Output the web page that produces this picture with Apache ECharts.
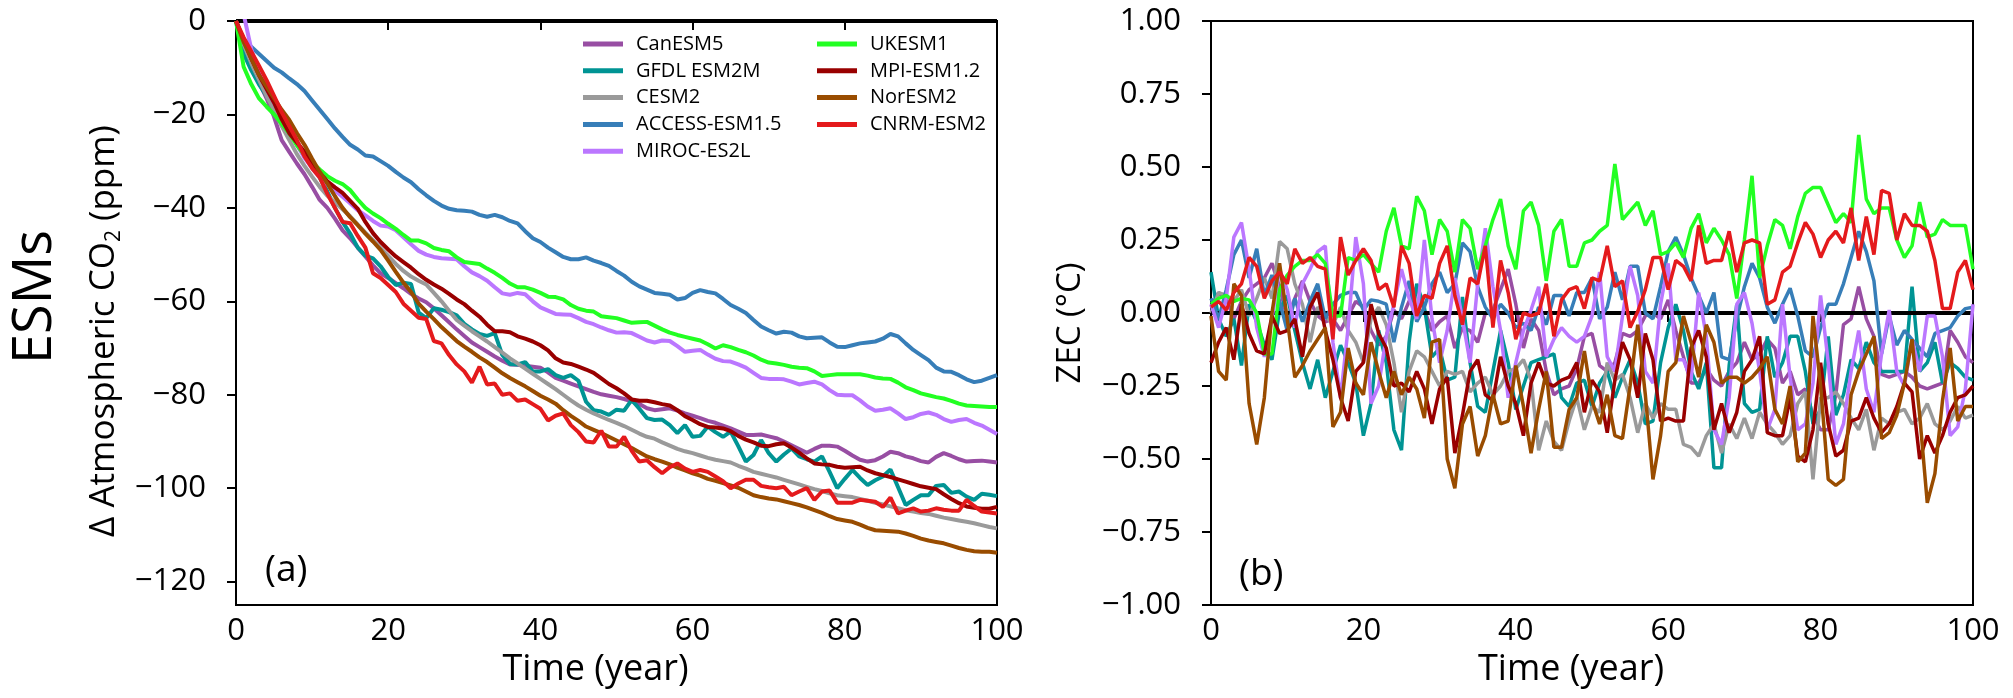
<!DOCTYPE html>
<html>
<head>
<meta charset="utf-8">
<script src="https://cdn.jsdelivr.net/npm/echarts@6/dist/echarts.min.js"></script>
<style>
  html, body { margin: 0; padding: 0; background: #fff; }
  #chart { width: 2013px; height: 698px; }
</style>
</head>
<body>
<div id="chart"></div>
<script>
var models = ['CanESM5', 'GFDL ESM2M', 'CESM2', 'ACCESS-ESM1.5', 'MIROC-ES2L',
              'UKESM1', 'MPI-ESM1.2', 'NorESM2', 'CNRM-ESM2'];
var colors = ['#984ea3', '#009494', '#9a9a9a', '#377eb8', '#bb77ff',
              '#22ff22', '#990000', '#994c00', '#e41a1c'];

var xTicks = [0, 20, 40, 60, 80, 100];
var co2Ticks = [0, -20, -40, -60, -80, -100, -120];

// (a) change in atmospheric CO2 (ppm), one value per year 0..100
var co2CanESM5 = [0,-5,-9,-13,-16.5,-20.5,-25.5,-28,-30.5,-32.8,
  -35.5,-38.3,-40,-42.3,-44.8,-46.5,-48.5,-50.4,-52.3,-54,
  -55,-56.1,-57.2,-58.4,-59.4,-60.2,-61.5,-63,-64.5,-66,
  -67.4,-68.8,-69.8,-70.8,-71.8,-72.7,-73.5,-73.6,-73.8,-74,
  -74.2,-75.2,-76.4,-77,-77.6,-78.2,-78.8,-79.4,-79.9,-80.2,
  -80.5,-80.9,-81.4,-82,-82.9,-83.3,-83.1,-82.9,-83.4,-84,
  -84.5,-85,-85.6,-86,-86.6,-87.2,-87.9,-88.6,-88.6,-88.5,
  -88.9,-89.3,-90,-90.8,-91.6,-92.4,-91.6,-90.9,-90.9,-91.1,
  -92,-93,-93.9,-94.3,-94,-93.2,-92.2,-92.5,-93.2,-93.6,
  -94.2,-94.5,-93.3,-92.5,-93.1,-93.8,-94.3,-94.2,-94.1,-94.3,
  -94.5];
var co2GFDL = [0,-7,-10.5,-13.5,-16,-18.3,-20.5,-23.5,-26.2,-28.5,
  -30.5,-33.5,-36.5,-40,-43,-45.5,-48.5,-50.2,-50.8,-52.5,
  -54.8,-56.5,-56,-56.3,-62.4,-63.6,-61.5,-61.8,-62.3,-63,
  -64.8,-66,-67,-67.4,-66.8,-71.5,-73.4,-73.5,-73,-75,
  -75,-74.5,-75.8,-76.4,-75.8,-77,-81.5,-83.3,-83.6,-84.3,
  -83.2,-83.4,-81.1,-83,-85,-85.4,-85.3,-86.5,-88.2,-86.5,
  -89,-88.8,-86.8,-88,-89,-87.9,-91,-94.3,-92.9,-89.7,
  -92.5,-94.3,-92.8,-91.5,-93.2,-93.8,-94.3,-93.2,-96.5,-100,
  -98,-96.1,-97.8,-99.3,-98.3,-97.5,-96,-99.8,-103.6,-102.5,
  -101.5,-101.5,-99.5,-99.3,-101,-100.7,-101.8,-102.5,-101.2,-101.4,
  -101.7];
var co2CESM2 = [0,-5,-9,-12.5,-16,-19,-22.5,-25.5,-28.5,-31,
  -33.3,-35.5,-37.4,-38.8,-40.3,-41.8,-43.6,-45.3,-46.9,-48.6,
  -50.3,-52,-53.5,-54.7,-55.6,-56.4,-58.2,-60,-62,-64,
  -65.2,-66.4,-67.5,-68.6,-69.8,-71,-72.2,-73.3,-74.4,-75.5,
  -76.6,-77.7,-78.8,-80,-81.2,-82.3,-83.2,-84,-84.7,-85.4,
  -86,-86.7,-87.5,-88.3,-89,-89.4,-90.2,-90.9,-91.6,-92.1,
  -92.5,-93,-93.5,-93.9,-94.2,-94.5,-95.2,-95.8,-96.5,-96.9,
  -97.3,-97.7,-98.2,-98.7,-99.2,-99.7,-100.2,-100.6,-101.1,-101.5,
  -101.7,-101.9,-102.3,-102.7,-103.1,-103.5,-103.9,-104.3,-104.7,-105,
  -105.3,-105.5,-105.9,-106.3,-106.6,-106.9,-107.2,-107.5,-107.9,-108.3,
  -108.6];
var co2ACCESS = [0,-4,-5.5,-7,-8.5,-10,-11,-12.3,-13.5,-15,
  -17,-19,-21,-23,-24.8,-26.5,-27.5,-28.8,-29,-30,
  -31,-32.3,-33.5,-34.5,-36,-37.3,-38.5,-39.5,-40.2,-40.5,
  -40.6,-40.8,-41.5,-41.9,-41.5,-42,-42.8,-43.3,-45,-46.5,
  -47.3,-48.5,-49.5,-50.5,-51,-51,-50.6,-51.3,-51.8,-52.4,
  -53.5,-54.5,-55.8,-56.8,-57.5,-58.2,-58.4,-58.6,-59.6,-59.3,
  -58.2,-57.6,-58,-58.3,-59.5,-60.8,-61.6,-62.5,-64,-65.4,
  -66.2,-66.9,-66.5,-66.7,-67.5,-67.9,-67.8,-67.7,-68.8,-69.7,
  -69.8,-69.4,-69,-68.8,-68.6,-68,-67,-67.5,-69,-70.4,
  -71.5,-72.6,-74.2,-75,-75.1,-75.8,-76.7,-77.3,-77,-76.4,
  -75.8];
var co2MIROC = [6,1.5,-6,-11,-14.5,-17.5,-20.5,-23.5,-26.5,-29.3,
  -31.5,-33.5,-35,-36.3,-37.6,-39,-40.5,-41.6,-42.8,-43.8,
  -44,-44.8,-46.3,-47.8,-49.2,-50,-50.5,-50.8,-50.9,-51,
  -52.5,-53.8,-54.6,-55.6,-57,-58.3,-58.6,-58.2,-58.5,-60,
  -61.3,-62,-62.7,-62.8,-62.9,-63.6,-64.4,-64.9,-65.6,-66.2,
  -66.7,-66.6,-66.8,-67.6,-68.4,-68.8,-68.4,-68.5,-69.6,-70.8,
  -70.6,-70.4,-71.4,-72.3,-72.8,-72.9,-73.5,-74.2,-75.3,-76.4,
  -76.6,-76.6,-76.7,-77.2,-77.8,-77.5,-77.2,-77.8,-79,-80,
  -80.1,-80.1,-81.2,-82.5,-83.4,-83.2,-82.9,-84,-85.2,-84.8,
  -84.1,-83.8,-84.3,-85.2,-85.8,-85.4,-85.2,-86,-86.6,-87.5,
  -88.4];
var co2UKESM1 = [0,-9.8,-13.5,-16.5,-18.3,-20,-22,-24,-26.6,-28.7,
  -30.3,-31.8,-33.2,-34.2,-34.9,-36.2,-38.2,-40,-41.2,-42.2,
  -43.4,-44.5,-45.8,-47,-47,-47.6,-48.6,-49,-49.3,-50.6,
  -51.6,-51.8,-52,-53,-53.9,-55,-56.2,-57,-57,-57.5,
  -58.2,-59,-59.1,-59.6,-60.8,-61.6,-62,-62.2,-63.2,-63.4,
  -63.6,-64.1,-64.6,-64.5,-64.4,-65.2,-66,-66.7,-67.2,-67.6,
  -68,-68.4,-69.2,-70.1,-69.4,-69.8,-70.4,-70.9,-71.6,-72.5,
  -73.1,-73.3,-73.6,-74,-74.2,-74.3,-75,-76,-75.8,-75.6,
  -75.6,-75.6,-75.6,-75.9,-76.3,-76.5,-76.6,-77.4,-78.4,-79,
  -79.7,-80.1,-80.5,-80.8,-81.3,-81.9,-82.3,-82.4,-82.5,-82.6,
  -82.6];
var co2MPI = [0,-4,-8,-11.5,-14.5,-17.5,-21,-24,-26,-28,
  -30.5,-32.5,-34.3,-35.6,-36.8,-38.5,-40.2,-43,-45.4,-47.3,
  -48.9,-50.4,-51.6,-52.8,-54.2,-55.4,-56.4,-57.3,-58.4,-59.6,
  -60.6,-62,-63.3,-65,-66.4,-66.4,-66.6,-67.5,-68,-68.6,
  -69.4,-70.5,-72.2,-73.1,-73.4,-74,-74.6,-75.3,-76.5,-77.7,
  -78.6,-79.7,-81,-81.3,-81.3,-81.6,-82,-82.3,-83.3,-84.6,
  -85.4,-86.3,-86.9,-87,-87.2,-87.8,-88.8,-89.6,-90.2,-90.9,
  -91,-90.6,-90.4,-91.3,-92.4,-93.6,-94.7,-94.9,-95,-95.4,
  -95.6,-95.5,-95.4,-96.2,-96.8,-97.2,-97.6,-98.1,-98.6,-99.1,
  -99.6,-99.9,-100.2,-101.3,-102.3,-103.2,-103.9,-104.2,-104.4,-104.4,
  -104];
var co2NorESM2 = [0,-4.5,-8,-11.5,-14,-16.5,-19,-21.2,-24,-26.5,
  -29.5,-32.3,-34.8,-37.5,-40,-42,-43.7,-45.5,-47.2,-49,
  -51.3,-53.7,-56,-58,-60.5,-62.2,-63.8,-65.5,-67,-68.5,
  -69.7,-70.8,-72,-73,-74.2,-75.4,-76.4,-77.3,-78.2,-79.2,
  -80.2,-81,-81.9,-83.3,-84.5,-85.6,-86.8,-87.5,-88.2,-89,
  -89.8,-90.6,-91.4,-92.3,-93.2,-93.8,-94.3,-94.9,-95.6,-96.2,
  -96.8,-97.3,-98,-98.4,-98.9,-99.4,-99.9,-100.7,-101.5,-101.9,
  -102.2,-102.4,-102.8,-103.2,-103.6,-104.1,-104.7,-105.3,-106,-106.6,
  -106.9,-107.2,-107.8,-108.5,-109,-109.1,-109.2,-109.3,-109.7,-110.2,
  -110.8,-111.2,-111.5,-111.8,-112.3,-112.8,-113.2,-113.5,-113.6,-113.6,
  -113.8];
var co2CNRM = [0,-3.5,-6.5,-9.5,-12.6,-16,-19.5,-22.5,-25.5,-29,
  -31.5,-33.5,-37,-40,-43,-43.3,-46,-48.5,-54,-55,
  -56.5,-58,-60.5,-62,-63.5,-63.8,-68.5,-69,-71.5,-73.5,
  -75,-77.4,-74,-77.8,-77.6,-80,-79.7,-81.3,-81,-82,
  -83,-85.5,-84.5,-84,-86.5,-88,-90,-90.2,-87.7,-91.1,
  -91.1,-89,-92,-94.3,-94,-95.5,-96.8,-95.5,-94.7,-95.8,
  -96.5,-96.1,-96.5,-97.5,-98.5,-100,-99,-98.2,-98.2,-99.5,
  -99.8,-100,-99.7,-101.5,-100.7,-100,-102.5,-100.7,-100.5,-103.1,
  -103.1,-103.1,-102.5,-102.7,-102.9,-104,-102,-105.4,-104.8,-104.3,
  -105,-104.8,-104.3,-104.6,-104.8,-104.8,-102.5,-103.8,-105,-105.2,
  -105.4];

// (b) zero emissions commitment (degC), one value per year 0..100
var zecCanESM5 = [0.02,0.07,0.05,-0.02,0.04,0.08,0.1,0.12,0.17,0.09,
  -0.02,0.05,0.11,0.04,-0.01,-0.03,-0.02,-0.06,-0.01,0.04,
  0.02,-0.06,-0.11,-0.08,0.01,-0.02,0.04,0.09,0.01,-0.06,
  -0.03,-0.01,-0.12,-0.05,-0.06,-0.1,0,0.01,0.08,0.15,
  0.03,-0.12,-0.02,-0.06,-0.2,-0.28,-0.26,-0.25,-0.19,-0.08,
  -0.07,-0.18,-0.2,-0.17,-0.07,-0.08,-0.06,-0.01,0,-0.02,
  0.045,-0.06,-0.15,-0.24,-0.24,-0.19,-0.23,-0.25,-0.2,-0.17,
  -0.1,-0.16,-0.14,-0.09,-0.12,-0.24,-0.2,-0.28,-0.26,-0.35,
  -0.4,-0.4,-0.28,-0.04,-0.02,0.09,-0.02,-0.08,-0.21,-0.22,
  -0.21,-0.2,-0.22,-0.25,-0.26,-0.25,-0.24,-0.06,-0.1,-0.15,
  -0.17];
var zecGFDL = [0.14,-0.02,-0.08,-0.02,-0.18,0.03,-0.03,-0.11,-0.16,0.01,
  0.06,-0.06,-0.17,-0.26,-0.16,-0.29,-0.2,-0.11,-0.17,-0.24,
  -0.42,-0.31,-0.06,-0.17,-0.4,-0.47,-0.1,0.1,0.02,-0.15,
  -0.12,-0.23,-0.22,0.055,-0.17,-0.32,-0.34,-0.2,-0.06,-0.17,
  -0.33,-0.25,-0.17,-0.16,-0.15,-0.14,-0.29,-0.32,-0.24,-0.23,
  -0.32,-0.24,-0.2,-0.29,-0.22,-0.16,-0.24,-0.38,-0.37,-0.17,
  -0.05,0.03,-0.06,-0.2,-0.26,-0.17,-0.53,-0.53,-0.18,0.03,
  -0.31,-0.34,-0.33,-0.08,-0.22,-0.17,-0.08,-0.08,-0.2,-0.38,
  -0.33,-0.08,-0.35,-0.28,-0.16,-0.19,-0.1,-0.17,-0.2,-0.2,
  -0.2,-0.2,0.09,-0.2,-0.17,-0.1,-0.24,-0.17,-0.19,-0.22,
  -0.23];
var zecCESM2 = [0,0.07,0.06,0.04,0.08,-0.01,0.05,0.12,0.05,0.245,
  0.22,0.1,0.03,-0.1,0.02,-0.01,-0.04,0.02,-0.06,-0.1,
  -0.17,-0.02,0.02,-0.04,-0.17,-0.34,-0.2,-0.13,-0.15,-0.2,
  -0.25,-0.2,-0.21,-0.2,-0.27,-0.24,-0.22,-0.28,-0.25,-0.2,
  -0.19,-0.16,-0.23,-0.47,-0.37,-0.44,-0.47,-0.37,-0.29,-0.4,
  -0.32,-0.34,-0.17,-0.23,-0.21,-0.29,-0.41,-0.31,-0.36,-0.31,
  -0.33,-0.33,-0.45,-0.46,-0.49,-0.42,-0.38,-0.48,-0.38,-0.43,
  -0.36,-0.43,-0.34,-0.38,-0.41,-0.45,-0.42,-0.31,-0.27,-0.57,
  -0.29,-0.29,-0.27,-0.31,-0.36,-0.4,-0.33,-0.47,-0.36,-0.38,
  -0.34,-0.33,-0.38,-0.36,-0.31,-0.38,-0.4,-0.37,-0.32,-0.36,
  -0.35];
var zecACCESS = [0.05,-0.02,0.08,0.2,0.25,0.12,0.22,0.06,0.13,0.04,
  -0.06,0.05,-0.03,0.04,0.1,-0.02,0.03,0.06,0.07,0.07,
  0.01,0.045,0.04,0.03,-0.1,0.02,0.11,-0.03,0.02,0.1,
  0.14,0.07,0.1,0.24,0.21,0.09,0.02,-0.02,0.03,0,
  -0.05,-0.035,-0.06,0.02,-0.04,0.06,0.06,-0.01,0.07,0.07,
  0.12,-0.02,0.02,0.14,0.045,0.16,0.16,0,-0.02,0.09,
  0.21,0.26,0.2,0.12,0.06,0,0.07,-0.15,-0.16,-0.02,
  0.09,0.17,0.12,0.02,-0.035,0.03,0.085,-0.01,-0.13,-0.15,
  -0.05,0.03,0.03,0.1,0.19,0.28,0.21,0.11,-0.14,-0.01,
  -0.11,-0.06,-0.09,-0.12,-0.15,-0.07,-0.06,-0.05,-0.01,0.015,
  0.02];
var zecMIROC = [0.03,-0.05,0.05,0.26,0.31,0.15,-0.05,-0.15,-0.02,0.15,
  0.08,-0.05,0.1,0.15,0.21,0.23,-0.1,-0.29,-0.05,0.26,
  0.1,-0.31,-0.25,-0.08,0.03,0.15,0.05,-0.02,0.25,-0.02,
  -0.17,-0.06,0.12,-0.02,-0.17,0.1,0.29,0.09,-0.06,-0.29,
  -0.17,-0.06,0.01,0.09,-0.15,-0.09,-0.05,-0.08,-0.1,-0.08,
  -0.01,0.14,-0.15,-0.2,-0.01,0.16,0.06,-0.2,-0.24,0.03,
  0.17,-0.16,-0.16,-0.23,0.07,-0.08,-0.4,-0.45,-0.29,0.03,
  0.07,-0.035,-0.2,-0.4,-0.33,0.03,-0.22,-0.4,-0.38,-0.24,
  0.06,-0.17,-0.45,-0.38,-0.2,-0.06,-0.26,-0.34,-0.14,0.01,
  -0.2,-0.25,-0.09,-0.2,-0.01,-0.01,-0.15,-0.42,-0.39,-0.26,
  0.03];
var zecUKESM1 = [0.03,0.05,0.06,0.04,0.05,0.045,0,-0.14,-0.14,0.08,
  0.13,0.16,0.18,0.18,0.2,0.17,-0.01,-0.01,0.19,0.18,
  0.2,0.17,0.14,0.28,0.36,0.23,0.22,0.4,0.35,0.2,
  0.32,0.28,0.14,0.32,0.29,0.15,0.23,0.32,0.39,0.23,
  0.15,0.35,0.38,0.3,0.11,0.28,0.32,0.16,0.16,0.24,
  0.25,0.28,0.3,0.51,0.32,0.35,0.38,0.3,0.35,0.2,
  0.21,0.24,0.19,0.29,0.34,0.24,0.29,0.25,0.2,0.05,
  0.25,0.47,0.12,0.23,0.32,0.3,0.22,0.33,0.41,0.43,
  0.43,0.37,0.31,0.34,0.31,0.61,0.39,0.34,0.36,0.36,
  0.25,0.19,0.23,0.38,0.26,0.27,0.32,0.3,0.3,0.3,
  0.15];
var zecMPI = [-0.17,-0.1,-0.05,-0.16,0.03,-0.07,-0.13,-0.14,-0.01,-0.07,
  -0.06,-0.02,-0.15,0.02,0.07,-0.06,-0.16,-0.29,-0.37,-0.2,
  -0.17,0.03,-0.07,-0.12,-0.25,-0.24,-0.27,-0.2,-0.26,-0.38,
  -0.26,-0.22,-0.48,-0.35,-0.2,-0.16,-0.28,-0.3,-0.15,-0.25,
  -0.31,-0.42,-0.24,-0.17,-0.24,-0.25,-0.23,-0.22,-0.17,-0.34,
  -0.23,-0.27,-0.41,-0.23,-0.1,-0.16,-0.29,-0.07,-0.16,-0.37,
  -0.36,-0.37,-0.37,-0.12,-0.06,-0.15,-0.4,-0.31,-0.41,-0.34,
  -0.2,-0.16,-0.08,-0.41,-0.42,-0.42,-0.29,-0.49,-0.51,-0.4,
  -0.17,-0.38,-0.49,-0.47,-0.37,-0.36,-0.29,-0.36,-0.41,-0.38,
  -0.32,-0.24,-0.27,-0.5,-0.42,-0.48,-0.42,-0.34,-0.29,-0.28,
  -0.25];
var zecNorESM2 = [-0.01,-0.2,-0.23,0.1,0.06,-0.31,-0.45,-0.29,0,0.17,
  -0.02,-0.22,-0.18,-0.13,-0.09,-0.05,-0.39,-0.34,-0.12,-0.24,
  -0.28,-0.1,-0.2,-0.29,-0.2,-0.28,-0.22,-0.26,-0.36,-0.1,
  -0.09,-0.5,-0.6,-0.38,-0.32,-0.49,-0.42,-0.28,-0.38,-0.37,
  -0.18,-0.32,-0.48,-0.33,-0.2,-0.46,-0.46,-0.33,-0.29,-0.13,
  -0.3,-0.38,-0.28,-0.42,-0.43,-0.25,-0.04,-0.28,-0.57,-0.42,
  -0.2,-0.17,-0.01,-0.1,-0.22,-0.04,-0.1,-0.24,-0.22,-0.22,
  -0.24,-0.22,-0.19,-0.15,-0.33,-0.38,-0.25,-0.51,-0.48,-0.01,
  -0.25,-0.57,-0.59,-0.57,-0.28,-0.2,-0.14,-0.08,-0.43,-0.41,
  -0.35,-0.24,-0.09,-0.35,-0.65,-0.55,-0.3,-0.12,-0.37,-0.32,
  -0.32];
var zecCNRM = [0.02,0.04,0.01,0.07,0.1,0.19,0.16,0.05,0.11,0.14,
  0.1,0.22,0.17,0.19,0.16,0.15,-0.09,0.26,0.13,0.18,
  0.22,0.18,0.08,0.1,0.02,0.23,0.17,-0.01,0.06,0.05,
  0.17,0.23,0.06,-0.04,0.12,0.1,0.23,-0.05,0.18,0.07,
  -0.09,0,-0.01,0,0.1,-0.08,0.045,0.08,0.09,0.015,
  0.12,0.11,0.23,0.09,0.11,-0.05,0.005,0.08,0.19,0.19,
  0.08,0.18,0.16,0.11,0.3,0.17,0.18,0.18,0.28,0.14,
  0.24,0.25,0.24,0.03,0.045,0.14,0.16,0.24,0.31,0.27,
  0.19,0.25,0.28,0.24,0.36,0.18,0.33,0.2,0.42,0.41,
  0.25,0.34,0.3,0.3,0.28,0.18,0.015,0.015,0.14,0.18,
  0.08];

var co2Series = [co2CanESM5, co2GFDL, co2CESM2, co2ACCESS, co2MIROC,
                 co2UKESM1, co2MPI, co2NorESM2, co2CNRM];
var zecSeries = [zecCanESM5, zecGFDL, zecCESM2, zecACCESS, zecMIROC,
                 zecUKESM1, zecMPI, zecNorESM2, zecCNRM];

(function () {
  var chart = echarts.init(document.getElementById('chart'), null, { renderer: 'canvas' });
  var font = 'Open Sans';
  var minus = function (s) { return String(s).replace('-', '\u2212'); };

  function pairs(arr) {
    return arr.map(function (v, i) { return [i, v]; });
  }

  var series = [];
  models.forEach(function (name, k) {
    series.push({
      name: name, type: 'line', xAxisIndex: 0, yAxisIndex: 0,
      data: pairs(co2Series[k]), showSymbol: false, symbol: 'none',
      lineStyle: { color: colors[k], width: 4 }, itemStyle: { color: colors[k] },
      z: 2 + k
    });
  });
  models.forEach(function (name, k) {
    series.push({
      name: name, type: 'line', xAxisIndex: 1, yAxisIndex: 1,
      data: pairs(zecSeries[k]), showSymbol: false, symbol: 'none',
      lineStyle: { color: colors[k], width: 3.5 }, itemStyle: { color: colors[k] },
      z: 2 + k
    });
  });
  // thick zero lines
  [0, 1].forEach(function (i) {
    series.push({
      type: 'line', xAxisIndex: i, yAxisIndex: i, data: [], z: 20, silent: true,
      markLine: {
        symbol: 'none', silent: true, label: { show: false },
        lineStyle: { color: '#000', width: 4, type: 'solid' },
        data: [{ yAxis: 0 }]
      }
    });
  });

  var xAxisBase = function (idx) {
    return {
      type: 'value', gridIndex: idx, min: 0, max: 100, interval: 20,
      name: 'Time (year)', nameLocation: 'middle', nameGap: 47,
      nameTextStyle: { fontFamily: font, fontSize: 36, color: '#000', padding: [0, 42, 0, 0] },
      axisLine: { lineStyle: { color: '#000', width: 2 } },
      axisTick: { inside: false, length: 9, lineStyle: { color: '#000', width: 2 } },
      axisLabel: { fontFamily: font, fontSize: 31, color: '#000', margin: 11 },
      splitLine: { show: false }
    };
  };

  var legendBase = {
    orient: 'vertical', top: 34, padding: 0, itemGap: 6.8,
    itemWidth: 40, itemHeight: 5, icon: 'rect', selectedMode: false,
    textStyle: { fontFamily: font, fontSize: 20, color: '#000', lineHeight: 20, padding: [0, 0, 0, 8] }
  };

  var option = {
    animation: false,
    backgroundColor: '#fff',
    grid: [
      { left: 236, top: 21, width: 761, height: 584, show: true, borderColor: '#000', borderWidth: 2 },
      { left: 1211, top: 21, width: 762, height: 584, show: true, borderColor: '#000', borderWidth: 2 }
    ],
    legend: [
      Object.assign({}, legendBase, { left: 583, data: models.slice(0, 5) }),
      Object.assign({}, legendBase, { left: 817, data: models.slice(5) })
    ],
    xAxis: [xAxisBase(0), xAxisBase(1)],
    yAxis: [
      {
        type: 'value', gridIndex: 0, min: -125, max: 0,
        axisLine: { show: true, lineStyle: { color: '#000', width: 2 } },
        axisTick: { show: true, length: 9, customValues: co2Ticks, lineStyle: { color: '#000', width: 2 } },
        axisLabel: { fontFamily: font, fontSize: 31, color: '#000', margin: 30,
                     customValues: co2Ticks, formatter: function (v) { return minus(v); } },
        splitLine: { show: false }
      },
      {
        type: 'value', gridIndex: 1, min: -1, max: 1, interval: 0.25,
        axisLine: { show: true, lineStyle: { color: '#000', width: 2 } },
        axisTick: { show: true, length: 9, lineStyle: { color: '#000', width: 2 } },
        axisLabel: { fontFamily: font, fontSize: 31, color: '#000', margin: 30,
                     formatter: function (v) { return minus(v.toFixed(2)); } },
        splitLine: { show: false }
      }
    ],
    graphic: [
      { type: 'text', x: 36, y: 297, rotation: Math.PI / 2,
        style: { text: 'ESMs', fontFamily: font, fontSize: 54, fill: '#000', align: 'center', verticalAlign: 'middle' } },
      { type: 'text', x: 104, y: 331, rotation: Math.PI / 2,
        style: {
          text: '{a|\u0394 Atmospheric CO}{s|2}{a| (ppm)}', fill: '#000', align: 'center', verticalAlign: 'middle',
          rich: {
            a: { fontFamily: font, fontSize: 35, fill: '#000', lineHeight: 42 },
            s: { fontFamily: font, fontSize: 21, fill: '#000', lineHeight: 42, verticalAlign: 'bottom' }
          }
        } },
      { type: 'text', x: 1071, y: 323, rotation: Math.PI / 2,
        style: { text: 'ZEC (\u00b0C)', fontFamily: font, fontSize: 33, fill: '#000', align: 'center', verticalAlign: 'middle' } },
      { type: 'text', x: 265, y: 570,
        style: { text: '(a)', fontFamily: font, fontSize: 37, fill: '#000', align: 'left', verticalAlign: 'middle' } },
      { type: 'text', x: 1239, y: 574,
        style: { text: '(b)', fontFamily: font, fontSize: 37, fill: '#000', align: 'left', verticalAlign: 'middle' } }
    ],
    series: series
  };

  chart.setOption(option);
  window.addEventListener('resize', function () { chart.resize(); });
})();
</script>
</body>
</html>
